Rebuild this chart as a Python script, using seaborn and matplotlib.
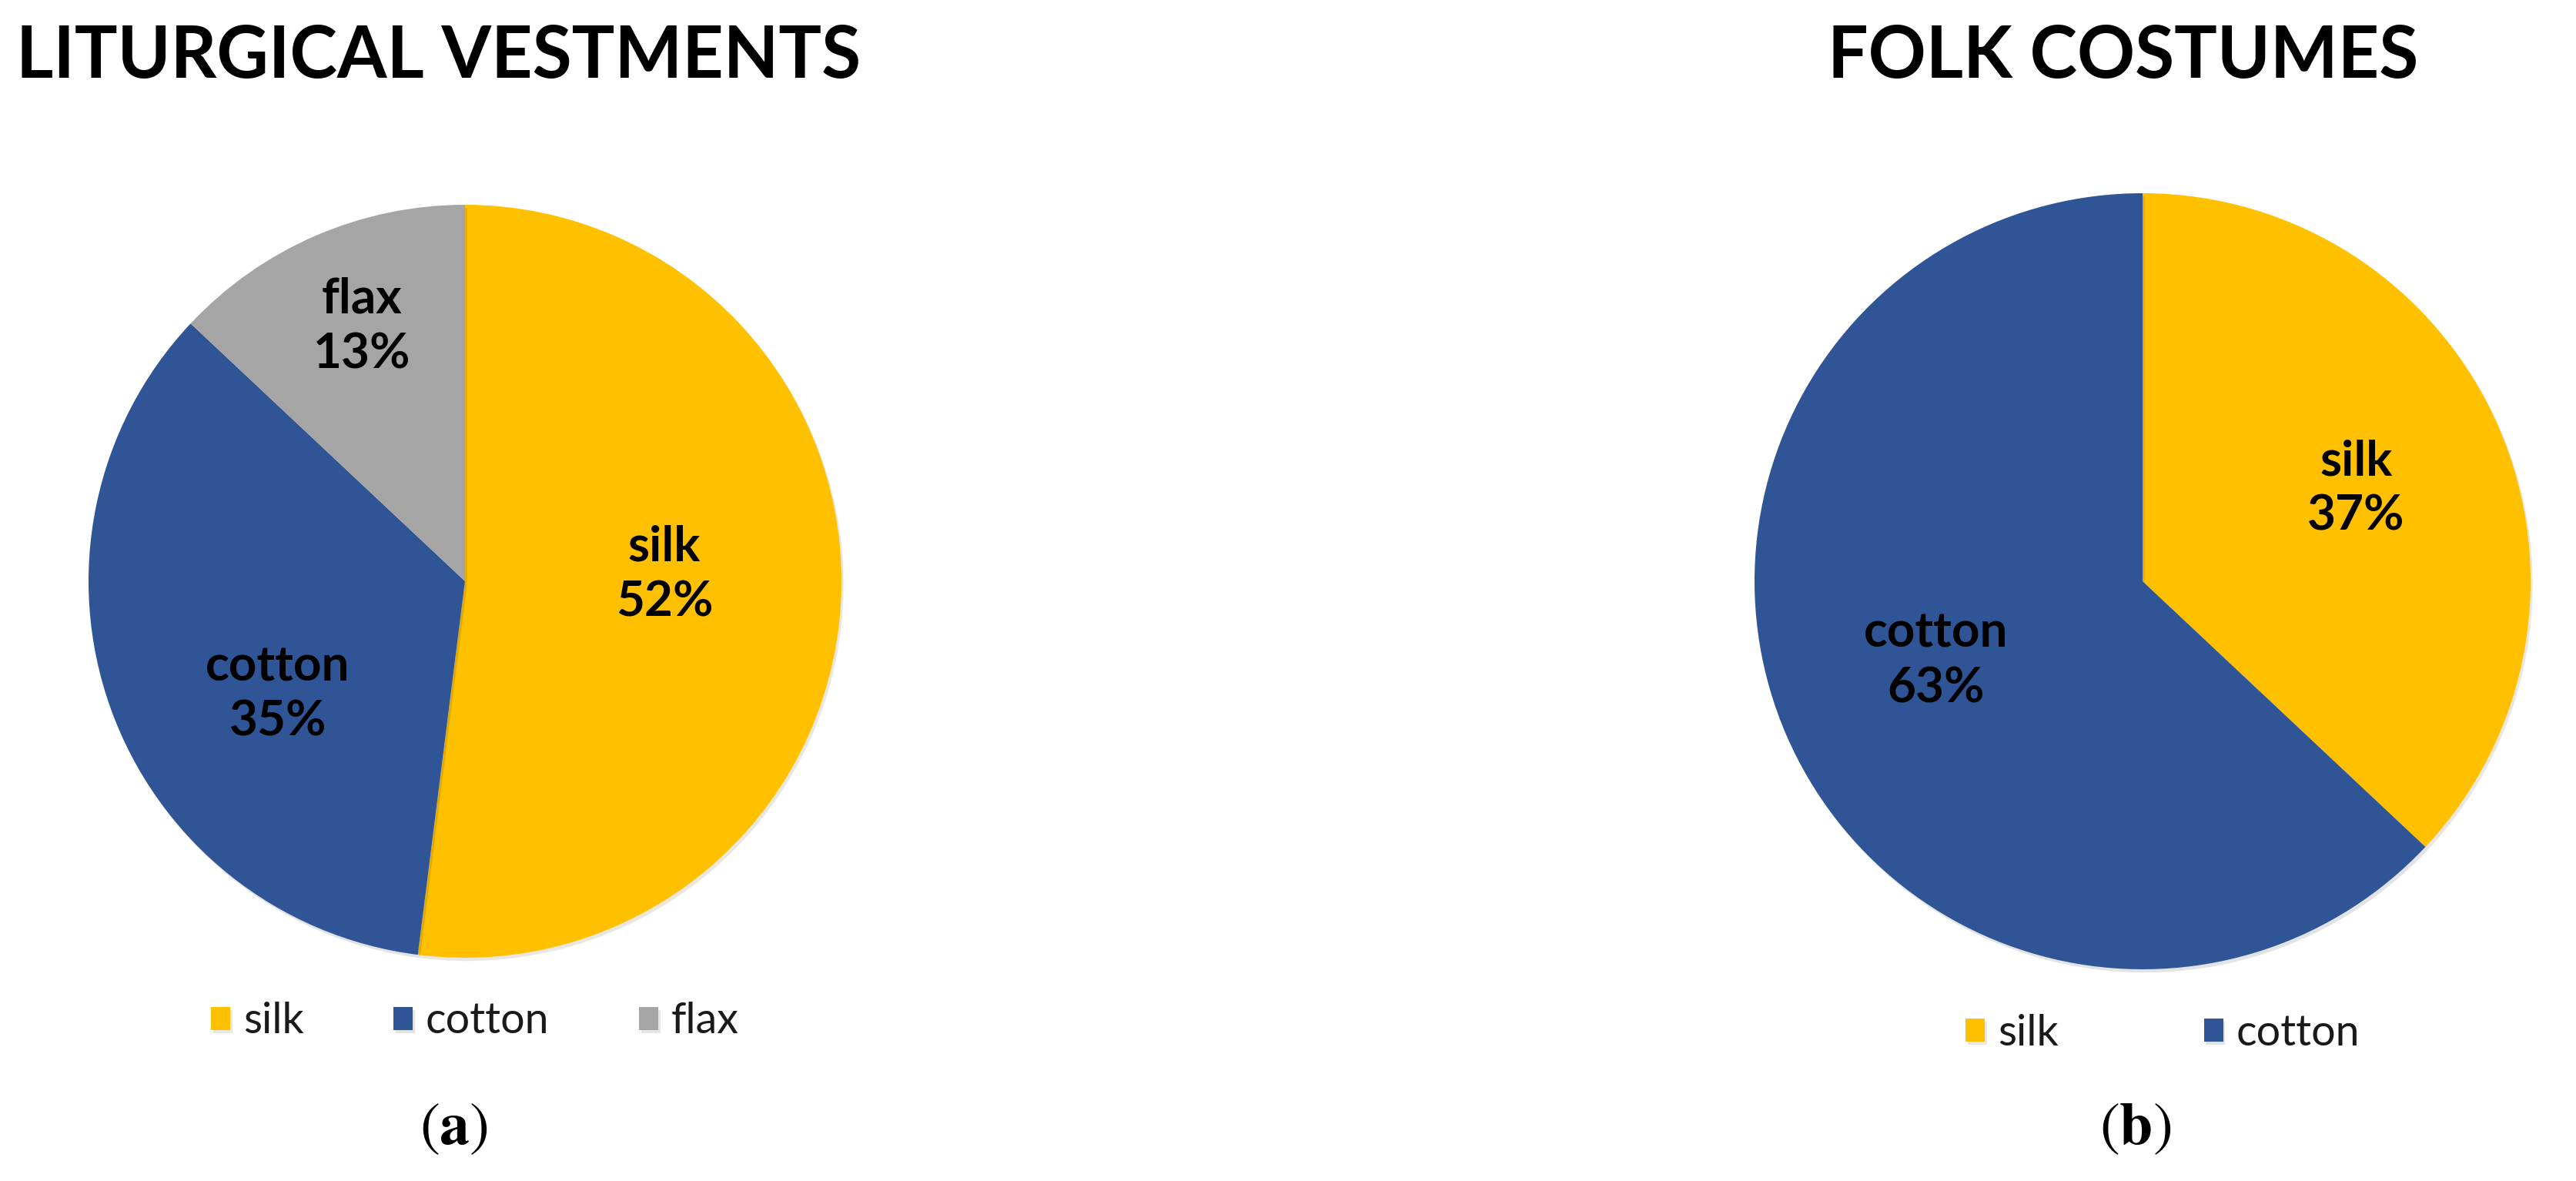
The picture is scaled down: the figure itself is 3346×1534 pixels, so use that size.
import numpy as np
import matplotlib
matplotlib.use("Agg")
import matplotlib.pyplot as plt
import matplotlib.patheffects as pe
import seaborn as sns

# data
liturgical_labels = ["silk", "cotton", "flax"]
liturgical_share = [52, 35, 13]
folk_labels = ["silk", "cotton"]
folk_share = [37, 63]
titles = ["LITURGICAL VESTMENTS", "FOLK COSTUMES"]
panel_tags = ["a", "b"]

sns.set_theme(style="white")
plt.rcParams["font.family"] = ["Lato", "DejaVu Sans"]
plt.rcParams["mathtext.fontset"] = "stix"

colors = {"silk": "#FFC000", "cotton": "#2F5597", "flax": "#A5A5A5"}

fig = plt.figure(figsize=(33.46, 15.34), dpi=100)
W, H = 3346, 1534


def add_pie(cx, cy, r, labels, shares, label_pos, legend_x, legend_y, colspace):
    ax = fig.add_axes([(cx - r) / W, (H - cy - r) / H, 2 * r / W, 2 * r / H])
    wedges, _ = ax.pie(shares, colors=[colors[l] for l in labels], startangle=90,
                       counterclock=False, radius=1,
                       wedgeprops=dict(linewidth=0,
                                       path_effects=[pe.SimplePatchShadow(offset=(2, -3), alpha=0.12),
                                                     pe.Normal()]))
    # data labels sit where the original put them (distance from centre, angle)
    for lab, val, (d, a) in zip(labels, shares, label_pos):
        ang = np.deg2rad(a)
        ax.text(d * np.cos(ang), d * np.sin(ang), f"{lab}\n{val}%", ha="center", va="center",
                fontsize=46, fontweight="bold", color="black", linespacing=1.3)
    ax.set_xlim(-1, 1)
    ax.set_ylim(-1, 1)
    ax.set_aspect("equal")
    ax.axis("off")
    leg = ax.legend(wedges, labels, loc="center",
                    bbox_to_anchor=((legend_x - (cx - r)) / (2 * r), (H - legend_y - (H - cy - r)) / (2 * r)),
                    ncol=len(labels), frameon=False, fontsize=40, handlelength=0.45, handleheight=0.45,
                    handletextpad=0.3, columnspacing=colspace)
    for t in leg.get_texts():
        t.set_color("#1a1a1a")
    return ax


add_pie(604, 755, 489, liturgical_labels, liturgical_share,
        [(0.53, 2), (0.58, 211), (0.73, 112)], 617, 1327, 2.1)
add_pie(2783, 755, 504, folk_labels, folk_share,
        [(0.60, 23.5), (0.57, 201)], 2809, 1342, 3.4)

fig.text(21 / W, 1 - 74 / H, titles[0], ha="left", va="center", fontsize=67, fontweight="bold",
         color="black")
fig.text(2758 / W, 1 - 74 / H, titles[1], ha="center", va="center", fontsize=67, fontweight="bold",
         color="black")

for x, tag in zip([589, 2774], panel_tags):
    fig.text(x / W, 1 - 1468 / H, "(" + r"$\mathbf{" + tag + "}$" + ")", ha="center", va="center",
             fontsize=56, family="STIXGeneral", color="black")

fig.savefig("out.png", dpi=100, facecolor="white")
